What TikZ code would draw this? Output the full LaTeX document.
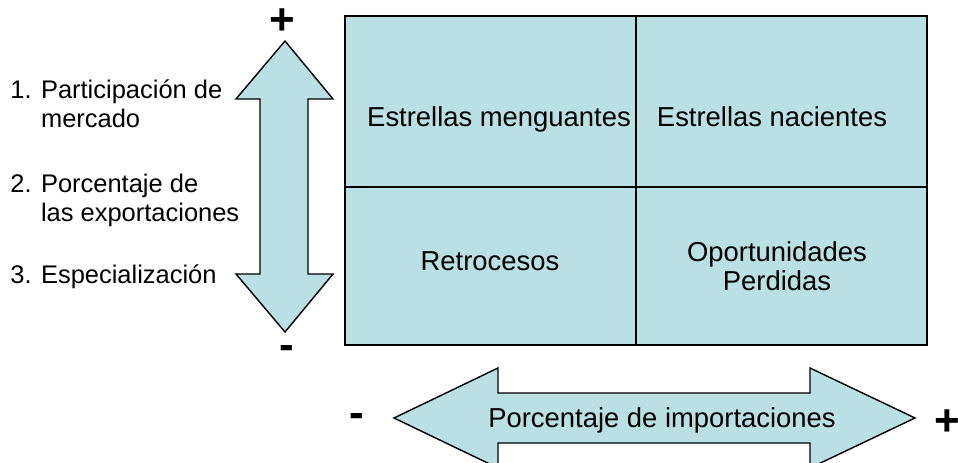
\documentclass[tikz,border=0pt]{standalone}
\usepackage{fontspec}
\setmainfont{Liberation Sans}
\usepackage{xcolor}

\definecolor{celeste}{RGB}{187,224,227}

\begin{document}
\begin{tikzpicture}[x=0.02cm,y=-0.02cm,
	celda/.style={draw=black,fill=celeste,line width=1.1pt},
	flecha/.style={draw=black,fill=celeste,line width=0.8pt,line join=miter},
	texto/.style={inner sep=0pt,anchor=base,font=\fontsize{15.6}{17}\selectfont},
	lista/.style={inner sep=0pt,anchor=base west,font=\fontsize{14.5}{17}\selectfont},
	signo/.style={inner sep=0pt,font=\fontsize{25}{25}\selectfont\bfseries}]
	%\draw[help lines] (0,0) grid[step=50] (958,463);
	\clip (0,0) rectangle (958,463);
	
	% cuadrantes
	\draw[celda] (345,16) rectangle (636,187);
	\draw[celda] (636,16) rectangle (927,187);
	\draw[celda] (345,187) rectangle (636,345);
	\draw[celda] (636,187) rectangle (927,345);
	
	\node[texto] (menguantes) at (499,126) {Estrellas menguantes};
	\node[texto] (nacientes) at (772,126) {Estrellas nacientes};
	\node[texto] (retrocesos) at (490,270) {Retrocesos};
	\node[texto,align=center] (perdidas) at (777,261)
		{\begin{tabular}[t]{@{}c@{}}Oportunidades\\Perdidas\end{tabular}};
	
	% flecha vertical
	\draw[flecha] (285,41) -- (333,99) -- (308,99) -- (308,274) -- (333,274)
		-- (285,332) -- (236,274) -- (260,274) -- (260,99) -- (236,99) -- cycle;
	\node[signo] (masV) at (282,22) {+};
	\node[signo] (menosV) at (287,352) {-};
	
	\node[lista] (participacion) at (10,98)
		{\begin{tabular}[t]{@{}l@{ }l@{}}1. & Participación de\\ & mercado\end{tabular}};
	\node[lista] (exportaciones) at (10,192)
		{\begin{tabular}[t]{@{}l@{ }l@{}}2. & Porcentaje de\\ & las exportaciones\end{tabular}};
	\node[lista] (especializacion) at (10,283)
		{\begin{tabular}[t]{@{}l@{ }l@{}}3. & Especialización\end{tabular}};
	
	% flecha horizontal
	\draw[flecha] (394,418) -- (498,368) -- (498,393) -- (810,393) -- (810,368)
		-- (915,418) -- (810,468) -- (810,443) -- (498,443) -- (498,468) -- cycle;
	\node[texto] (importaciones) at (662,427) {Porcentaje de importaciones};
	\node[signo] (menosH) at (357,420) {-};
	\node[signo] (masH) at (947,423) {+};
\end{tikzpicture}
\end{document}
